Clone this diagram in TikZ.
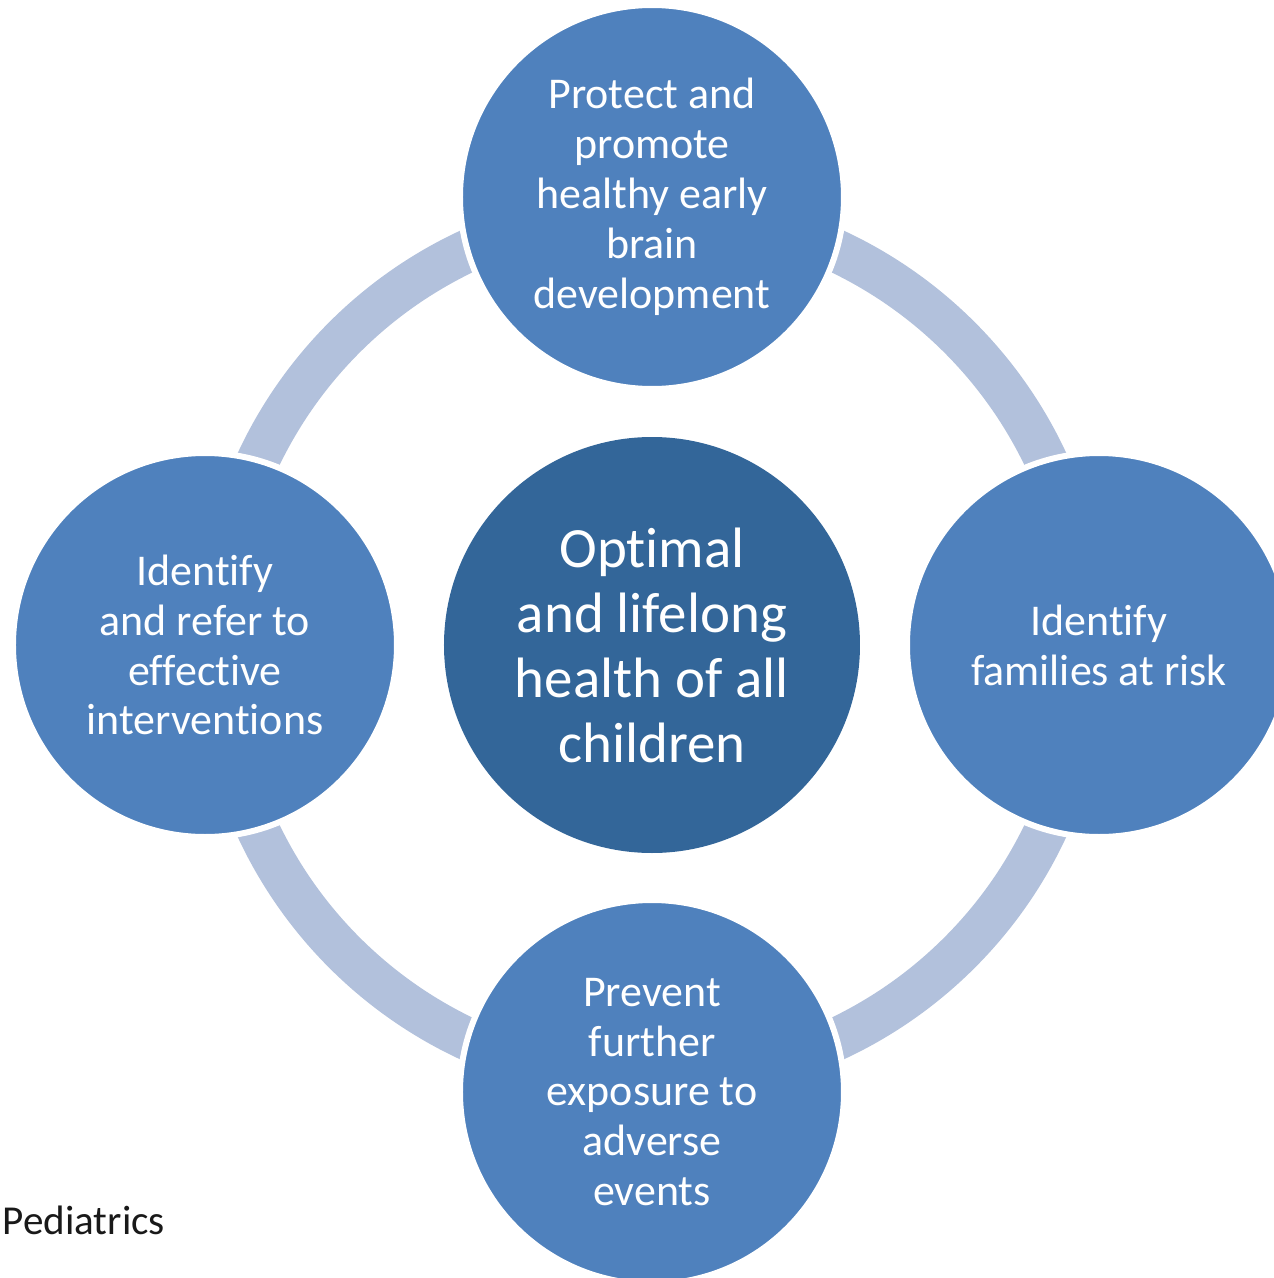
\documentclass[tikz,border=0pt]{standalone}
\usepackage{fontspec}
\setmainfont[Ligatures=NoCommon]{Carlito}
\definecolor{stepblue}{HTML}{4F81BD}
\definecolor{hubblue}{HTML}{336699}
\definecolor{ringgray}{HTML}{B2C1DC}
\begin{document}
\begin{tikzpicture}[
  spoke/.style={circle,fill=stepblue,draw=white,line width=0.06cm,minimum size=3.84cm,inner sep=0pt,align=center,text=white,font=\fontsize{12.5}{14.2}\selectfont},
  hub/.style={circle,fill=hubblue,minimum size=4.16cm,inner sep=0pt,align=center,text=white,font=\fontsize{16.2}{18.5}\selectfont}]

\useasboundingbox (-6.52,-6.33) rectangle (6.22,6.45);

\node[hub] (hub) at (0,0) {Optimal\\and lifelong\\health of all\\children};
\draw[color=ringgray,line width=0.43cm] (hub) circle (4.35cm);

\node[spoke] (protect) at (0,4.48) {Protect and\\promote\\healthy early\\brain\\development};
\node[spoke] (risk) at (4.47,0) {Identify\\families at risk};
\node[spoke] (prevent) at (0,-4.47) {Prevent\\further\\exposure to\\adverse\\events};
\node[spoke] (refer) at (-4.47,0) {Identify\\and refer to\\effective\\interventions};

\node[anchor=base west,inner sep=0pt,text=black!90,font=\fontsize{11.7}{14}\selectfont] (source) at (-6.50,-5.89) {Pediatrics};

\end{tikzpicture}
\end{document}
